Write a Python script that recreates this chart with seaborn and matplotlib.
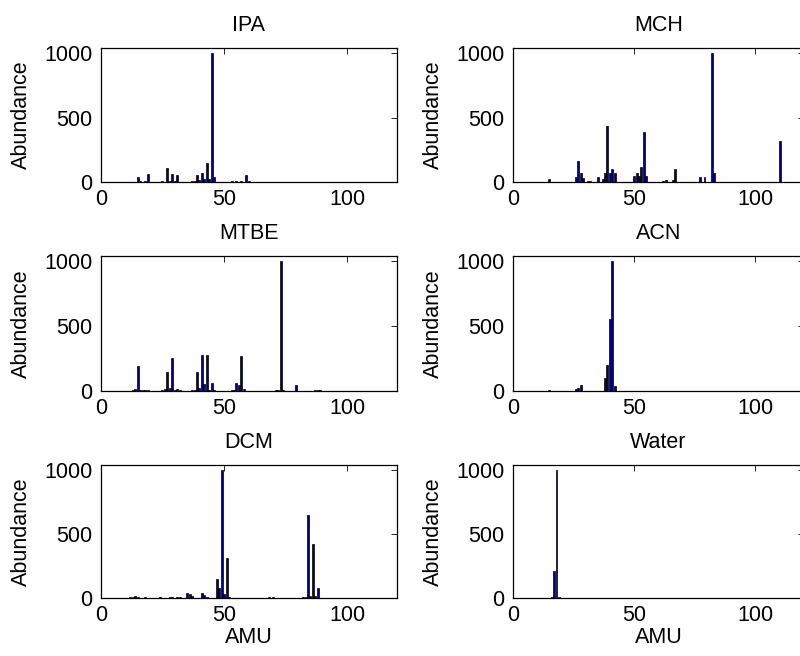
import numpy as np
import pandas as pd
import matplotlib
matplotlib.use('Agg')
import matplotlib.pyplot as plt
import seaborn as sns

# --- mass axis (AMU) shared by every spectrum ---
AMU_RANGE = np.arange(1, 114)

# --- peaks (AMU, abundance) ---
IPA_MZ = [15, 16, 18, 19, 25, 27, 28, 29, 30, 31, 37, 38, 39, 40, 41, 42, 43, 44, 45, 46, 53, 55, 57, 59, 60]
IPA_AB = [40, 8, 8, 62, 5, 105, 10, 62, 8, 51, 5, 10, 51, 15, 72, 20, 149, 25, 1000, 40, 5, 5, 8, 51, 10]

MCH_MZ = [15, 26, 27, 28, 29, 31, 32, 35, 37, 38, 39, 40, 41, 42, 50, 51, 52, 53, 54, 55,
          62, 63, 66, 67, 77, 79, 82, 83, 110]
MCH_AB = [26, 36, 160, 72, 30, 10, 8, 40, 20, 72, 432, 72, 100, 72, 46, 72, 46, 118, 390, 46,
          8, 15, 15, 100, 36, 36, 1000, 72, 316]

MTBE_MZ = [12, 13, 14, 15, 16, 17, 18, 19, 25, 26, 27, 28, 29, 30, 31, 32, 37, 38, 39, 40, 41, 42, 43,
           44, 45, 46, 47, 50, 51, 52, 53, 54, 55, 56, 57, 58, 71, 72, 73, 74, 79, 87, 88, 89]
MTBE_AB = [3, 8, 18, 190, 8, 5, 5, 5, 8, 12, 147, 26, 250, 8, 12, 5, 5, 10, 147, 20, 280, 50, 280,
           8, 65, 5, 3, 3, 3, 3, 5, 5, 60, 45, 270, 15, 8, 5, 1000, 5, 45, 5, 5, 5]

ACN_MZ = [15, 26, 27, 28, 38, 39, 40, 41, 42]
ACN_AB = [8, 15, 20, 46, 103, 200, 556, 1000, 36]

DCM_MZ = [12, 13, 14, 15, 18, 24, 28, 29, 31, 32, 35, 36, 37, 41, 42, 43, 47, 48, 49, 50, 51, 52,
          68, 70, 82, 83, 84, 85, 86, 87, 88]
DCM_AB = [5, 8, 15, 5, 5, 5, 8, 8, 8, 8, 42, 30, 15, 40, 25, 8, 147, 76, 1000, 35, 312, 8,
          5, 5, 5, 10, 651, 15, 425, 15, 79]

WATER_MZ = [16, 17, 18, 19]
WATER_AB = [10, 210, 1000, 8]

PANELS = [
    ('IPA', IPA_MZ, IPA_AB),
    ('MCH', MCH_MZ, MCH_AB),
    ('MTBE', MTBE_MZ, MTBE_AB),
    ('ACN', ACN_MZ, ACN_AB),
    ('DCM', DCM_MZ, DCM_AB),
    ('Water', WATER_MZ, WATER_AB),
]

BAR_COLOR = '#000080'
FONT_SIZE = 15.5

# axes rectangles (figure fraction), MATLAB subplot(3,2,k) style
COL_LEFT = [0.126, 0.641]
COL_WIDTH = [0.370, 0.364]
ROW_BOTTOM = [0.7226, 0.404, 0.0884]
ROW_HEIGHT = [0.204, 0.206, 0.203]


def spectrum_frame(mz, ab):
    df = pd.DataFrame({'AMU': AMU_RANGE, 'Abundance': 0.0}).set_index('AMU')
    df.loc[mz, 'Abundance'] = ab
    return df.reset_index()


def main():
    sns.set_style('white')
    plt.rcParams['font.family'] = ['Liberation Sans', 'DejaVu Sans']
    plt.rcParams['font.size'] = FONT_SIZE
    # plain black text like the original MATLAB figure
    for key in ['text.color', 'axes.labelcolor', 'xtick.color', 'ytick.color']:
        plt.rcParams[key] = 'black'

    fig = plt.figure(figsize=(8, 6.56), dpi=100)

    for k, (name, mz, ab) in enumerate(PANELS):
        row, col = divmod(k, 2)
        ax = fig.add_axes([COL_LEFT[col], ROW_BOTTOM[row], COL_WIDTH[col], ROW_HEIGHT[row]])
        df = spectrum_frame(mz, ab)
        sns.barplot(data=df, x='AMU', y='Abundance', native_scale=True, ax=ax,
                    color=BAR_COLOR, saturation=1, edgecolor='black', linewidth=0.5,
                    width=0.8, errorbar=None)
        ax.set_xlim(0, 120)
        ax.set_ylim(0, 1040)
        ax.set_xticks([0, 50, 100])
        ax.set_yticks([0, 500, 1000])
        ax.tick_params(direction='in', top=True, right=True, length=4, width=0.6,
                       labelsize=FONT_SIZE, colors='black')
        ax.tick_params(axis='x', pad=5)
        ax.tick_params(axis='y', pad=6)
        for sp in ax.spines.values():
            sp.set_visible(True)
            sp.set_color('black')
            sp.set_linewidth(0.9)
        ax.set_title(name, fontsize=FONT_SIZE, pad=12, color='black')
        ax.set_ylabel('Abundance', fontsize=FONT_SIZE, labelpad=9, color='black')
        if row == 2:
            ax.set_xlabel('AMU', fontsize=FONT_SIZE, labelpad=1, color='black')
        else:
            ax.set_xlabel('')

    fig.savefig('out.png', dpi=100)
    plt.close(fig)


if __name__ == '__main__':
    main()
